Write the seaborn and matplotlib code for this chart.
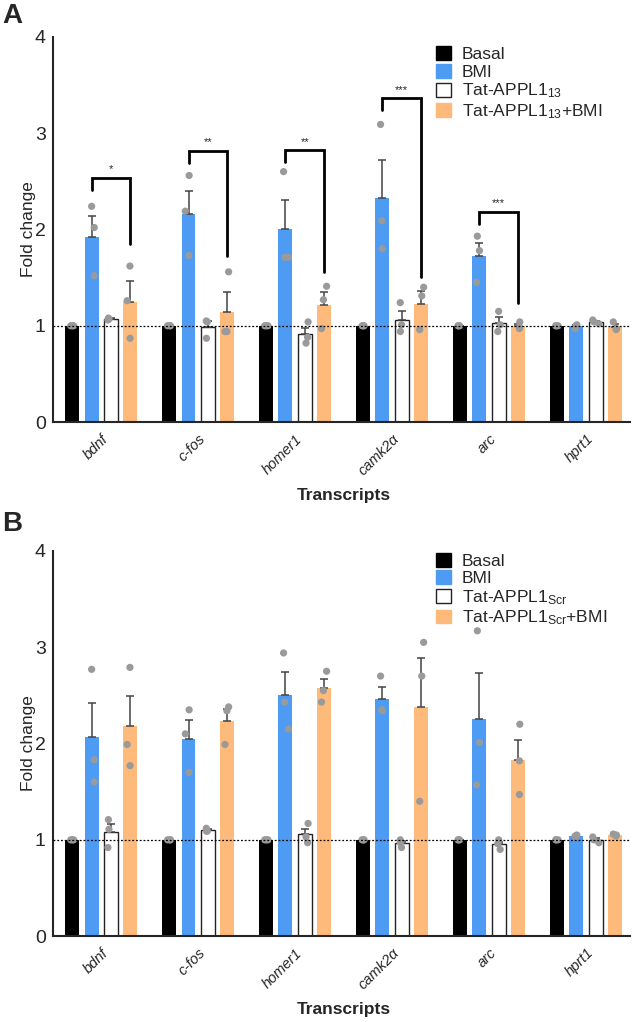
import numpy as np
import pandas as pd
import matplotlib
matplotlib.use("Agg")
import matplotlib.pyplot as plt
import seaborn as sns
from matplotlib.patches import Patch

genes = ["bdnf", "c-fos", "homer1", "camk2α", "arc", "hprt1"]
groups_a = ["Basal", "BMI", "Tat-APPL1$_{13}$", "Tat-APPL1$_{13}$+BMI"]
groups_b = ["Basal", "BMI", "Tat-APPL1$_{\\mathrm{Scr}}$", "Tat-APPL1$_{\\mathrm{Scr}}$+BMI"]

# individual replicates (fold change), one list of 3 per transcript
basal = [[1.0, 1.0, 1.0]] * 6

bmi_a = [[2.24, 2.02, 1.52], [2.56, 2.19, 1.73], [2.60, 1.71, 1.71],
         [3.09, 2.09, 1.80], [1.93, 1.78, 1.45], [1.01, 0.97, 1.00]]
tat_a = [[1.08, 1.07, 1.06], [1.05, 1.04, 0.87], [1.04, 0.82, 0.88],
         [1.24, 0.94, 1.01], [1.15, 0.94, 1.01], [1.06, 1.04, 1.02]]
tat_bmi_a = [[1.62, 1.26, 0.87], [1.56, 0.94, 0.94], [1.41, 1.27, 0.97],
             [1.40, 1.31, 0.96], [1.04, 0.97, 0.99], [1.04, 0.97, 0.96]]

bmi_b = [[2.77, 1.83, 1.60], [2.35, 2.10, 1.70], [2.94, 2.43, 2.15],
         [2.70, 2.35, 2.34], [3.17, 2.01, 1.57], [1.05, 1.04, 1.03]]
tat_b = [[1.21, 1.11, 0.92], [1.12, 1.09, 1.09], [1.17, 1.03, 0.97],
         [1.00, 0.97, 0.92], [1.00, 0.96, 0.90], [1.03, 1.00, 0.97]]
tat_bmi_b = [[2.79, 1.99, 1.77], [2.38, 2.34, 1.99], [2.75, 2.55, 2.43],
             [3.05, 2.70, 1.40], [2.20, 1.82, 1.47], [1.06, 1.05, 1.04]]

# significance (panel A): BMI vs Tat-APPL1_13+BMI
sig_genes = ["bdnf", "c-fos", "homer1", "camk2α", "arc"]
sig_labels = ["*", "**", "**", "***", "***"]

colors = ["#000000", "#4E9BF4", "#FFFFFF", "#FDBA7A"]


def to_long(groups, series):
    rows = []
    for group, values in zip(groups, series):
        for gene, reps in zip(genes, values):
            for v in reps:
                rows.append({"gene": gene, "group": group, "fold": v})
    return pd.DataFrame(rows)


def draw_panel(ax, df, groups):
    palette = dict(zip(groups, colors))
    sns.barplot(data=df, x="gene", y="fold", hue="group", order=genes, hue_order=groups,
                palette=palette, errorbar=None, width=0.8, gap=0.28, legend=False,
                saturation=1, ax=ax, zorder=2)
    # outline the white bars
    n = len(genes)
    for i, patch in enumerate(ax.patches):
        if i // n == 2:
            patch.set_edgecolor("#222222")
            patch.set_linewidth(1.0)
        else:
            patch.set_linewidth(0)

    # mean + SEM, upper half only
    stats = df.groupby(["group", "gene"])["fold"].agg(["mean", "sem"])
    for i, patch in enumerate(ax.patches):
        group = groups[i // n]
        gene = genes[i % n]
        m, s = stats.loc[(group, gene)]
        xc = patch.get_x() + patch.get_width() / 2
        ax.errorbar(xc, m, yerr=[[0], [s]], color="#444444", lw=1.1,
                    capsize=3, capthick=1.1, zorder=3)

    np.random.seed(3)
    sns.stripplot(data=df, x="gene", y="fold", hue="group", order=genes, hue_order=groups,
                  dodge=True, jitter=0.14, palette=["#9a9a9a"] * 4, size=5.2,
                  legend=False, ax=ax, zorder=4)

    ax.axhline(1, color="black", ls=(0, (1.5, 1.5)), lw=0.9, zorder=5)
    ax.set_ylim(0, 4)
    ax.set_xlim(-0.5, 5.45)
    ax.set_yticks([0, 1, 2, 3, 4])
    ax.tick_params(axis="y", labelsize=14, length=4, width=1.3, pad=1)
    ax.tick_params(axis="x", length=0, labelsize=10.5, pad=7)
    for lab in ax.get_xticklabels():
        lab.set_rotation(45)
        lab.set_ha("right")
        lab.set_rotation_mode("anchor")
        lab.set_style("italic")
    ax.set_ylabel("Fold change", fontsize=12.5, labelpad=-1)
    ax.set_xlabel("")
    sns.despine(ax=ax)
    for sp in ["left", "bottom"]:
        ax.spines[sp].set_linewidth(1.5)

    handles = [Patch(facecolor=c, edgecolor=("#222222" if c == "#FFFFFF" else c), lw=1)
               for c in colors]
    return handles


sns.set_theme(style="white")
plt.rcParams["font.family"] = ["Liberation Sans", "DejaVu Sans"]
plt.rcParams["mathtext.fontset"] = "custom"
plt.rcParams["mathtext.rm"] = "Liberation Sans"
plt.rcParams["mathtext.it"] = "Liberation Sans:italic"

fig = plt.figure(figsize=(6.36, 10.22), dpi=100)
ax_a = fig.add_axes([0.083, 0.587, 0.907, 0.377])
ax_b = fig.add_axes([0.083, 0.084, 0.907, 0.377])

df_a = to_long(groups_a, [basal, bmi_a, tat_a, tat_bmi_a])
df_b = to_long(groups_b, [basal, bmi_b, tat_b, tat_bmi_b])

h_a = draw_panel(ax_a, df_a, groups_a)
h_b = draw_panel(ax_b, df_b, groups_b)

ax_a.legend(h_a, groups_a, loc="upper left", bbox_to_anchor=(0.665, 0.975), frameon=False,
            fontsize=12.5, handlelength=0.85, handleheight=0.85, labelspacing=0.1,
            handletextpad=0.6, borderpad=0, borderaxespad=0)
ax_b.legend(h_b, groups_b, loc="upper left", bbox_to_anchor=(0.665, 0.995), frameon=False,
            fontsize=12.5, handlelength=0.85, handleheight=0.85, labelspacing=0.1,
            handletextpad=0.6, borderpad=0, borderaxespad=0)

# significance brackets in panel A (BMI bar -> Tat-APPL1_13+BMI bar)
bracket_tops = [2.53, 2.81, 2.82, 3.36, 2.18]
right_ends = [1.85, 1.72, 1.56, 1.51, 1.24]
n = len(genes)
for gene, label, top, low in zip(sig_genes, sig_labels, bracket_tops, right_ends):
    gi = genes.index(gene)
    p1 = ax_a.patches[1 * n + gi]
    p2 = ax_a.patches[3 * n + gi]
    x1 = p1.get_x() + p1.get_width() / 2
    x2 = p2.get_x() + p2.get_width() / 2
    ax_a.plot([x1, x1, x2, x2], [top - 0.12, top, top, low], color="black", lw=2,
              solid_joinstyle="miter", zorder=6)
    ax_a.text((x1 + x2) / 2, top + 0.04, label, ha="center", va="bottom", fontsize=8)

fig.text(0.54, 0.515, "Transcripts", ha="center", va="center", fontsize=12.5, weight="bold")
fig.text(0.54, 0.012, "Transcripts", ha="center", va="center", fontsize=12.5, weight="bold")
fig.text(0.004, 0.997, "A", ha="left", va="top", fontsize=20, weight="bold")
fig.text(0.004, 0.500, "B", ha="left", va="top", fontsize=20, weight="bold")

fig.savefig("out.png", dpi=100)
